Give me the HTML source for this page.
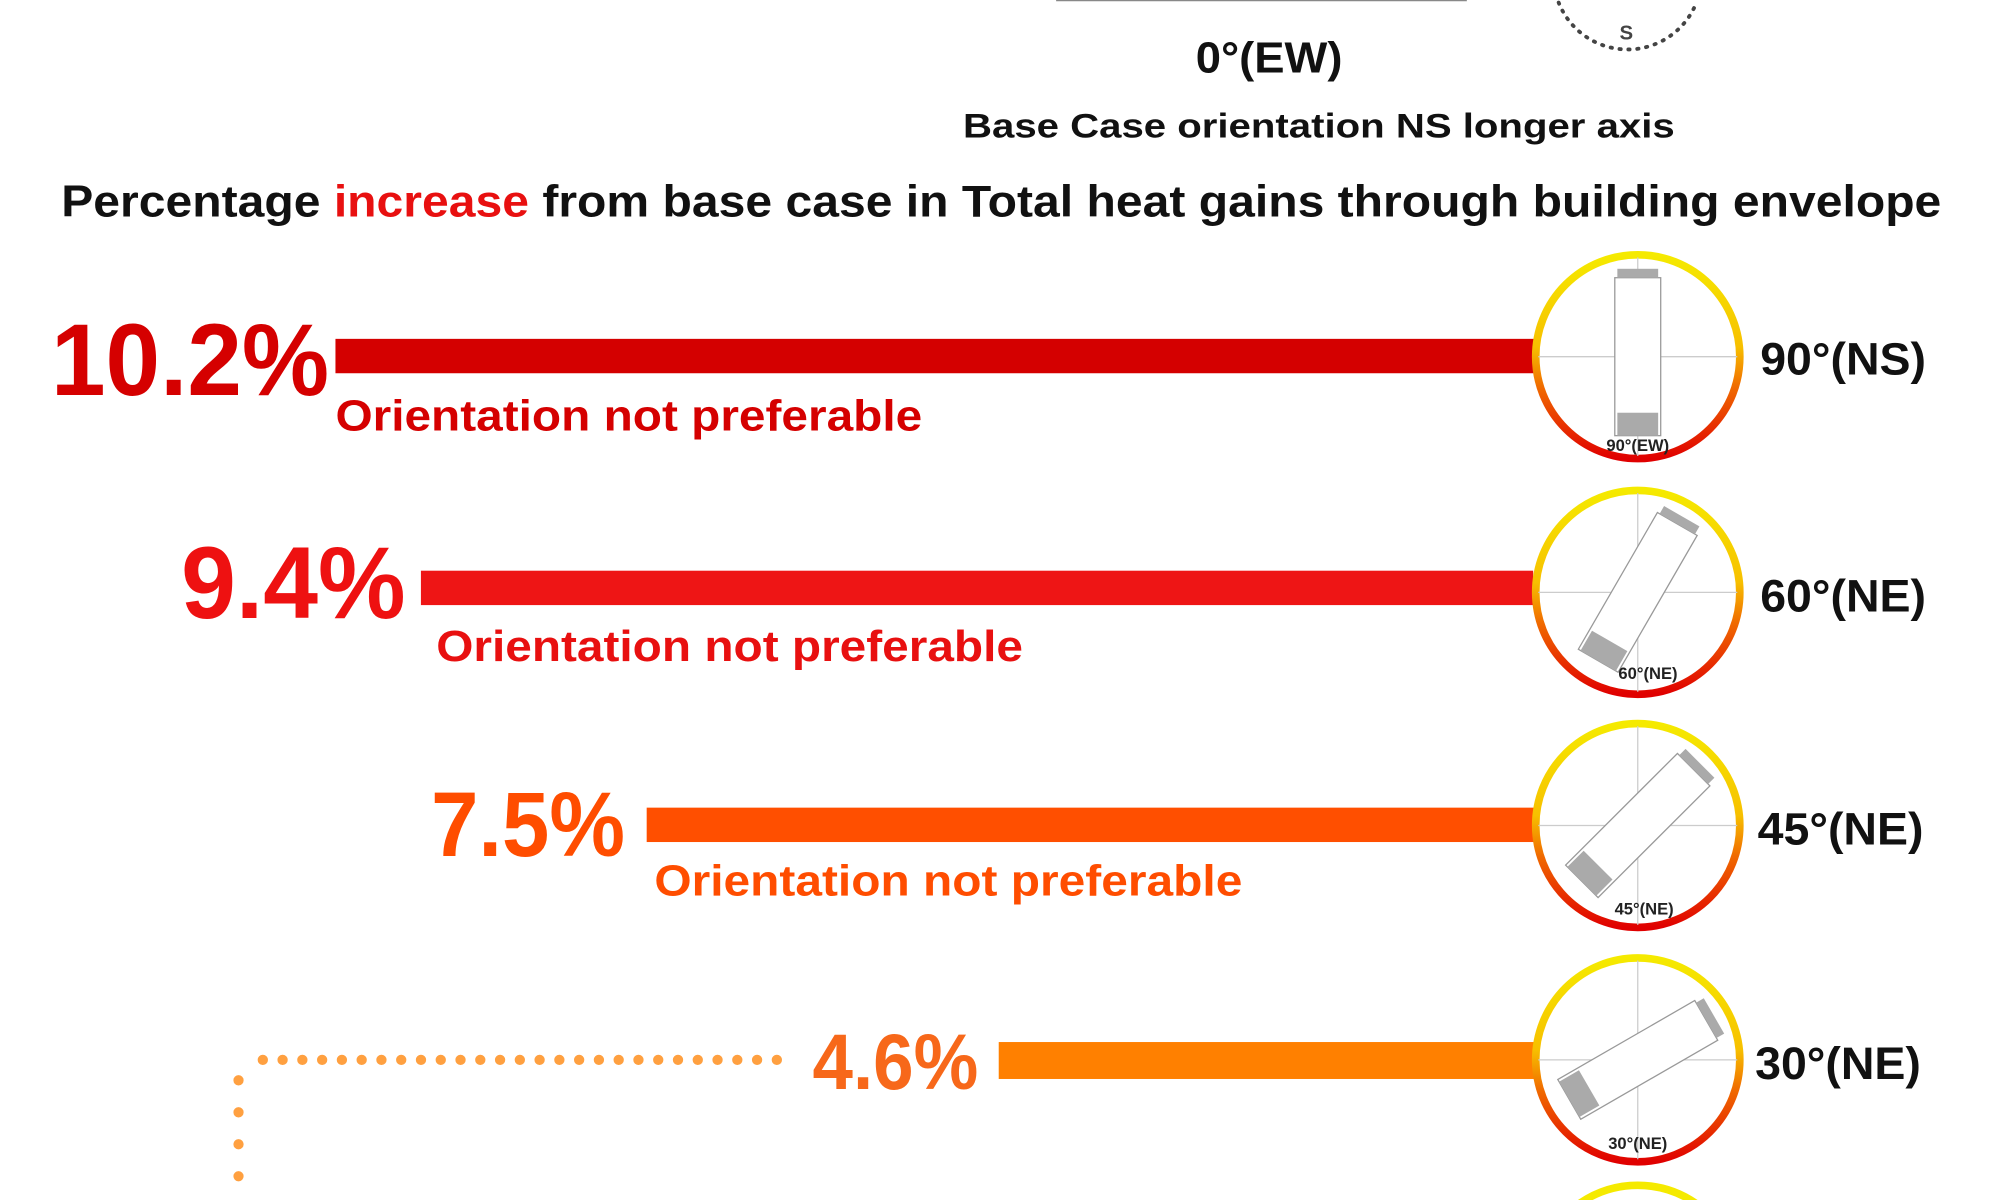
<!DOCTYPE html>
<html><head><meta charset="utf-8"><style>
html,body{margin:0;padding:0;background:#fff;width:2000px;height:1200px;overflow:hidden}
svg{display:block}
text{font-family:"Liberation Sans",sans-serif;font-weight:bold}
</style></head><body>
<svg width="2000" height="1200" viewBox="0 0 1568 942" preserveAspectRatio="none" xmlns="http://www.w3.org/2000/svg">
<defs>
<linearGradient id="g" x1="0" y1="0" x2="0" y2="1">
<stop offset="0" stop-color="#f5ea00"/><stop offset="0.45" stop-color="#f7c000"/><stop offset="0.65" stop-color="#f06a00"/><stop offset="1" stop-color="#e00000"/></linearGradient>
<g id="bld">
<rect x="-18" y="-62" width="36" height="124" fill="#fff" stroke="#999" stroke-width="1"/>
<rect x="-16" y="-69" width="32" height="7" fill="#aaa"/>
<rect x="-16" y="44" width="32" height="18" fill="#aaa"/>
</g>
</defs>
<line x1="828" y1="0" x2="1150" y2="0" stroke="#888" stroke-width="2"/>
<path d="M1222 2 A58 58 0 0 0 1330 2" fill="none" stroke="#444" stroke-width="3" stroke-dasharray="1 6" stroke-linecap="round"/>
<text x="1275" y="31" font-size="16" text-anchor="middle" fill="#444">S</text>
<text x="995" y="57" font-size="34" text-anchor="middle" fill="#111" textLength="115" lengthAdjust="spacingAndGlyphs">0°(EW)</text>
<text x="1034" y="108" font-size="27" text-anchor="middle" fill="#111" textLength="558" lengthAdjust="spacingAndGlyphs">Base Case orientation NS longer axis</text>
<text x="48" y="170" font-size="35" fill="#111" textLength="1474" lengthAdjust="spacingAndGlyphs">Percentage <tspan fill="#e81010">increase</tspan> from base case in Total heat gains through building envelope</text>

<text x="40" y="310" font-size="80" fill="#d50000" textLength="218" lengthAdjust="spacingAndGlyphs">10.2%</text>
<rect x="263" y="266" width="940" height="27" fill="#d40000"/>
<text x="263" y="338" font-size="34" fill="#d50000" textLength="460" lengthAdjust="spacingAndGlyphs">Orientation not preferable</text>
<text x="142" y="485" font-size="80" fill="#ee1111" textLength="176" lengthAdjust="spacingAndGlyphs">9.4%</text>
<rect x="330" y="448" width="872" height="27" fill="#ee1515"/>
<text x="342" y="519" font-size="34" fill="#e81010" textLength="460" lengthAdjust="spacingAndGlyphs">Orientation not preferable</text>
<text x="338" y="672" font-size="72" fill="#ff4d00" textLength="152" lengthAdjust="spacingAndGlyphs">7.5%</text>
<rect x="507" y="634" width="697" height="27" fill="#ff4f00"/>
<text x="513" y="703" font-size="34" fill="#ff4d00" textLength="461" lengthAdjust="spacingAndGlyphs">Orientation not preferable</text>
<text x="637" y="855" font-size="62" fill="#f7681a" textLength="130" lengthAdjust="spacingAndGlyphs">4.6%</text>
<rect x="783" y="818" width="426" height="29" fill="#ff8000"/>
<line x1="206" y1="832" x2="622" y2="832" stroke="#ffa040" stroke-width="8" stroke-dasharray="0.1 15.4" stroke-linecap="round"/>
<line x1="187" y1="848" x2="187" y2="935" stroke="#ffa040" stroke-width="8" stroke-dasharray="0.1 25" stroke-linecap="round"/>

<g transform="translate(1284,280)">
<circle r="80" fill="#fff" stroke="url(#g)" stroke-width="6"/>
<line x1="-78" y1="0" x2="78" y2="0" stroke="#ccc"/><line x1="0" y1="-78" x2="0" y2="78" stroke="#ccc"/>
<use href="#bld"/>
<text x="0" y="74" font-size="13" text-anchor="middle" fill="#222">90°(EW)</text></g>
<g transform="translate(1284,465)">
<circle r="80" fill="#fff" stroke="url(#g)" stroke-width="6"/>
<line x1="-78" y1="0" x2="78" y2="0" stroke="#ccc"/><line x1="0" y1="-78" x2="0" y2="78" stroke="#ccc"/>
<use href="#bld" transform="rotate(30)"/>
<text x="8" y="68" font-size="13" text-anchor="middle" fill="#222">60°(NE)</text></g>
<g transform="translate(1284,648)">
<circle r="80" fill="#fff" stroke="url(#g)" stroke-width="6"/>
<line x1="-78" y1="0" x2="78" y2="0" stroke="#ccc"/><line x1="0" y1="-78" x2="0" y2="78" stroke="#ccc"/>
<use href="#bld" transform="rotate(45)"/>
<text x="5" y="70" font-size="13" text-anchor="middle" fill="#222">45°(NE)</text></g>
<g transform="translate(1284,832)">
<circle r="80" fill="#fff" stroke="url(#g)" stroke-width="6"/>
<line x1="-78" y1="0" x2="78" y2="0" stroke="#ccc"/><line x1="0" y1="-78" x2="0" y2="78" stroke="#ccc"/>
<use href="#bld" transform="rotate(60)"/>
<text x="0" y="70" font-size="13" text-anchor="middle" fill="#222">30°(NE)</text></g>
<path d="M1238 945 A80 80 0 0 1 1330 945" fill="none" stroke="#f5ea00" stroke-width="6"/>

<text x="1380" y="294" font-size="36" fill="#111" textLength="130" lengthAdjust="spacingAndGlyphs">90°(NS)</text>
<text x="1380" y="480" font-size="36" fill="#111" textLength="130" lengthAdjust="spacingAndGlyphs">60°(NE)</text>
<text x="1378" y="663" font-size="36" fill="#111" textLength="130" lengthAdjust="spacingAndGlyphs">45°(NE)</text>
<text x="1376" y="847" font-size="36" fill="#111" textLength="130" lengthAdjust="spacingAndGlyphs">30°(NE)</text>
</svg>
</body></html>
